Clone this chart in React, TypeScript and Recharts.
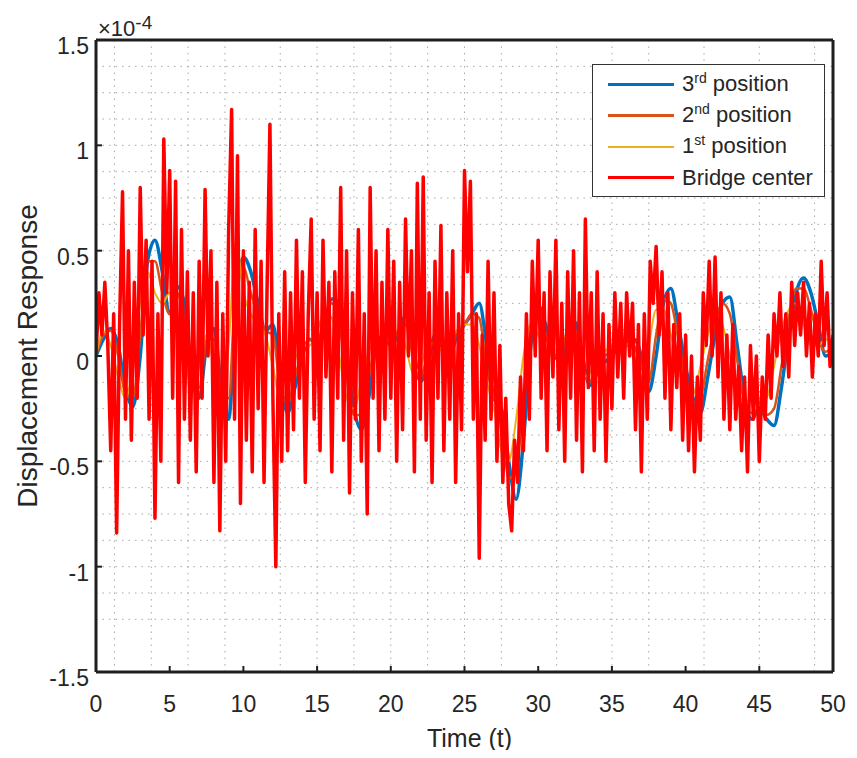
import React from "react";
import { LineChart, Line, XAxis, YAxis, CartesianGrid, Legend, Label } from "recharts";

// x axis: time (t), y values in units of 1e-4
const xTicks = [0, 5, 10, 15, 20, 25, 30, 35, 40, 45, 50];
const yTicks = [-1.5, -1, -0.5, 0, 0.5, 1, 1.5];
const gridXValues = [1.25, 3.75, 5, 6.25, 7.5, 8.75, 12.5, 13.75, 15, 17.5, 20, 21.25, 22.5, 23.75, 25, 27.5, 28.75, 31.25, 33.75, 35, 36.25, 37.5, 38.75, 40, 41.25, 43.75, 45, 46.25, 47.5, 48.75];
const gridYValues = [1.375, 1.25, 1.125, 1, 0.875, 0.75, 0.625, 0.5, 0.375, 0.25, 0.125, -0.125, -0.25, -0.375, -0.5, -0.625, -0.75, -0.875, -1, -1.125, -1.25];

const SMOOTH_STEP = 0.5;
const CENTER_STEP = 0.2;

const pos3 = [
  0.0, 0.08, 0.13, 0.05, -0.15, -0.24, 0.0, 0.45, 0.55, 0.4,
  0.2, 0.33, 0.25, -0.1, -0.2, 0.05, 0.13, -0.15, -0.3, 0.25,
  0.47, 0.4, 0.25, 0.12, 0.15, -0.1, -0.27, -0.15, 0.0, 0.08,
  0.05, 0.15, 0.27, 0.25, 0.0, -0.25, -0.35, -0.2, 0.04, 0.1,
  0.05, 0.1, 0.19, 0.05, -0.12, -0.05, 0.1, 0.05, 0.0, 0.1,
  0.15, 0.2, 0.25, 0.05, -0.2, -0.25, -0.5, -0.68, -0.4, 0.05,
  0.24, 0.15, 0.03, -0.03, 0.08, 0.16, 0.0, -0.14, -0.08, -0.03,
  0.0, 0.05, 0.07, 0.08, 0.0, -0.17, 0.0, 0.25, 0.32, 0.15,
  -0.05, -0.2, -0.27, -0.1, 0.1, 0.25, 0.28, 0.05, -0.2, -0.3,
  -0.25, -0.3, -0.33, -0.15, 0.1, 0.3, 0.37, 0.3, 0.15, 0.0,
  0.02,
];

const pos2 = [
  0.0, 0.1, 0.12, 0.0, -0.18, -0.2, 0.1, 0.45, 0.45, 0.3,
  0.2, 0.3, 0.15, -0.12, -0.15, 0.08, 0.08, -0.2, -0.2, 0.35,
  0.42, 0.3, 0.2, 0.12, 0.1, -0.15, -0.22, -0.1, 0.02, 0.08,
  0.06, 0.18, 0.25, 0.15, -0.08, -0.28, -0.28, -0.1, 0.05, 0.08,
  0.06, 0.12, 0.15, 0.0, -0.1, 0.0, 0.08, 0.04, 0.02, 0.12,
  0.15, 0.2, 0.18, -0.05, -0.2, -0.3, -0.58, -0.55, -0.2, 0.12,
  0.2, 0.1, 0.0, 0.0, 0.12, 0.12, -0.05, -0.12, -0.05, 0.0,
  0.02, 0.06, 0.08, 0.05, -0.05, -0.12, 0.1, 0.27, 0.25, 0.08,
  -0.1, -0.22, -0.2, -0.02, 0.15, 0.25, 0.2, -0.02, -0.22, -0.27,
  -0.25, -0.28, -0.25, -0.05, 0.18, 0.32, 0.32, 0.22, 0.08, 0.02,
  0.05,
];

const pos1 = [
  0.0, 0.12, 0.05, -0.1, -0.2, -0.05, 0.25, 0.4, 0.3, 0.25,
  0.3, 0.2, 0.0, -0.15, -0.05, 0.1, -0.05, -0.25, 0.05, 0.55,
  0.3, 0.2, 0.15, 0.1, -0.05, -0.2, -0.15, -0.02, 0.05, 0.05,
  0.12, 0.2, 0.18, 0.0, -0.2, -0.25, -0.12, 0.02, 0.06, 0.05,
  0.1, 0.12, 0.05, -0.08, -0.05, 0.05, 0.06, 0.02, 0.08, 0.12,
  0.15, 0.15, 0.05, -0.12, -0.25, -0.45, -0.5, -0.3, 0.0, 0.15,
  0.1, 0.02, 0.0, 0.08, 0.1, 0.0, -0.1, -0.08, 0.0, 0.02,
  0.05, 0.05, 0.05, -0.02, -0.1, 0.05, 0.22, 0.22, 0.1, -0.05,
  -0.18, -0.18, -0.05, 0.1, 0.2, 0.15, 0.0, -0.15, -0.22, -0.2,
  -0.22, -0.2, -0.05, 0.12, 0.22, 0.25, 0.15, 0.05, 0.05, 0.08,
  0.05,
];

const bridgeCenter = [
  0.0, 0.3, 0.1, 0.35, 0.05, -0.45, 0.2, -0.84, 0.15, 0.78, -0.3, 0.5, -0.4, 0.35, -0.2, 0.8, 0.1, 0.55, -0.3, 0.45, -0.77, 0.2, -0.5, 1.03, 0.3,
  0.88, -0.2, 0.83, -0.6, 0.6, -0.3, 0.4, -0.4, 0.3, -0.55, 0.45, -0.2, 0.79, 0.0, 0.5, -0.6, 0.35, -0.83, 0.2, -0.5, 0.6, 1.17, -0.3, 0.95, -0.7,
  0.5, -0.4, 0.35, -0.55, 0.6, -0.25, 0.45, -0.6, 0.3, 1.1, -0.2, -1.0, 0.2, -0.5, 0.4, -0.45, 0.3, -0.35, 0.55, -0.2, 0.4, -0.6, 0.2, 0.65, -0.3,
  0.3, -0.45, 0.55, -0.1, 0.35, -0.55, 0.4, -0.2, 0.8, -0.4, 0.5, -0.65, 0.3, -0.3, 0.6, -0.5, 0.2, -0.75, 0.8, -0.2, 0.5, -0.45, 0.35, -0.3, 0.6,
  -0.2, 0.45, -0.5, 0.35, -0.35, 0.65, 0.0, 0.5, -0.55, 0.82, -0.3, 0.85, -0.4, 0.3, -0.6, 0.45, -0.2, 0.62, -0.45, 0.3, -0.3, 0.5, -0.6, 0.2, -0.35,
  0.88, 0.4, 0.83, -0.3, 0.2, -0.96, 0.1, -0.4, 0.45, -0.3, 0.3, -0.5, 0.05, -0.6, -0.2, -0.7, -0.83, -0.4, -0.6, -0.1, -0.45, 0.2, -0.3, 0.45, 0.0,
  0.55, -0.2, 0.3, -0.45, 0.4, -0.1, 0.55, -0.35, 0.25, -0.5, 0.4, -0.2, 0.5, -0.4, 0.3, -0.55, 0.65, -0.15, 0.3, -0.45, 0.4, -0.3, 0.2, -0.5, 0.15,
  -0.25, 0.3, -0.1, 0.25, -0.2, 0.3, 0.0, 0.25, -0.35, 0.15, -0.55, 0.2, -0.3, 0.45, 0.25, 0.52, 0.1, 0.4, -0.2, 0.3, -0.35, 0.15, -0.15, 0.2, -0.4,
  0.1, -0.45, 0.0, -0.55, -0.1, -0.4, 0.3, 0.05, 0.45, 0.0, 0.47, -0.1, 0.3, -0.3, 0.1, -0.35, 0.15, -0.3, -0.05, -0.45, -0.1, -0.55, 0.05, -0.3, 0.0,
  -0.5, -0.1, -0.3, 0.1, -0.2, 0.2, 0.0, 0.3, -0.05, 0.2, -0.1, 0.35, 0.05, 0.3, 0.1, 0.35, 0.0, 0.25, -0.1, 0.2, 0.0, 0.45, 0.05, 0.3, -0.05,
  0.1,
];

const seriesNames = ["3rd position", "2nd position", "1st position", "Bridge center"];
const seriesColors = ["#0072BD", "#D95319", "#EDB120", "#FF0000"];
const seriesWidths = [3.5, 2.5, 2, 3.5];

const toPoints = (vals: number[], step: number) =>
  vals.map((v, i) => ({ t: Math.round(i * step * 100) / 100, v }));

const seriesData = [
  toPoints(pos3, SMOOTH_STEP),
  toPoints(pos2, SMOOTH_STEP),
  toPoints(pos1, SMOOTH_STEP),
  toPoints(bridgeCenter, CENTER_STEP),
];

const FONT = "'Liberation Sans', Arial, Helvetica, sans-serif";
const AXIS_COLOR = "#1f1f1f";
const TEXT_COLOR = "#262626";

const renderName = (name: string) => {
  const m = name.match(/^(\d)(st|nd|rd|th)(.*)$/);
  if (!m) return name;
  return (
    <>
      {m[1]}
      <span style={{ fontSize: 14, position: "relative", top: -8 }}>{m[2]}</span>
      {m[3]}
    </>
  );
};

const renderLegend = () => (
  <div
    style={{
      width: 233,
      height: 133,
      boxSizing: "border-box",
      border: "1.5px solid #333",
      background: "#fff",
      paddingTop: 4,
      fontFamily: FONT,
      fontSize: 22,
      color: TEXT_COLOR,
    }}
  >
    {seriesNames.map((n, i) => (
      <div key={n} style={{ display: "flex", alignItems: "center", height: 31 }}>
        <span
          style={{
            display: "inline-block",
            marginLeft: 15,
            width: 66,
            height: Math.min(seriesWidths[i], 3),
            background: seriesColors[i],
          }}
        />
        <span style={{ marginLeft: 8, whiteSpace: "nowrap", lineHeight: "31px" }}>{renderName(n)}</span>
      </div>
    ))}
  </div>
);

const YLabelContent = (props: any) => {
  const vb = props.viewBox || { x: 8, y: 31, width: 80, height: 633 };
  const cx = vb.x + 11;
  const cy = vb.y + vb.height / 2;
  return (
    <g>
      <text
        x={cx}
        y={cy}
        transform={`rotate(-90 ${cx} ${cy})`}
        textAnchor="middle"
        dominantBaseline="central"
        fontSize={28}
        fontFamily={FONT}
        fill={TEXT_COLOR}
      >
        Displacement Response
      </text>
      <text x={vb.x + vb.width + 2} y={vb.y - 4} fontSize={22} fontFamily={FONT} fill={TEXT_COLOR}>
        ×10
        <tspan dy={-7} fontSize={19}>-4</tspan>
      </text>
    </g>
  );
};

const XLabelContent = (props: any) => {
  const vb = props.viewBox || { x: 88, y: 664, width: 737, height: 60 };
  return (
    <text
      x={vb.x + vb.width / 2 + 5}
      y={vb.y + 75}
      textAnchor="middle"
      fontSize={25}
      fontFamily={FONT}
      fill={TEXT_COLOR}
    >
      Time (t)
    </text>
  );
};

const tickStyle = { fontSize: 23, fontFamily: FONT, fill: TEXT_COLOR };

export default function App() {
  return (
    <div style={{ width: 841, height: 750, marginBottom: -8 }}>
      <LineChart width={841} height={750} margin={{ top: 31, right: 15, bottom: 26, left: 8 }}>
        <CartesianGrid
          xAxisId="bottom"
          yAxisId="left"
          verticalValues={gridXValues}
          horizontalValues={gridYValues}
          stroke="#a8a8a8"
          strokeDasharray="1.5 5"
          strokeWidth={1}
        />
        <XAxis
          xAxisId="bottom"
          type="number"
          dataKey="t"
          domain={[0, 50]}
          ticks={xTicks}
          allowDataOverflow
          height={60}
          tickSize={-6}
          tickMargin={30}
          tick={tickStyle}
          axisLine={{ stroke: AXIS_COLOR, strokeWidth: 3 }}
          tickLine={{ stroke: AXIS_COLOR, strokeWidth: 2 }}
        >
          <Label content={<XLabelContent />} />
        </XAxis>
        <XAxis
          xAxisId="top"
          orientation="top"
          type="number"
          dataKey="t"
          domain={[0, 50]}
          ticks={xTicks}
          allowDataOverflow
          height={1}
          tickSize={-6}
          tick={false}
          axisLine={{ stroke: AXIS_COLOR, strokeWidth: 3 }}
          tickLine={{ stroke: AXIS_COLOR, strokeWidth: 2 }}
        />
        <YAxis
          yAxisId="left"
          type="number"
          domain={[-1.5, 1.5]}
          ticks={yTicks}
          allowDataOverflow
          width={80}
          tickSize={-6}
          tickMargin={13}
          tick={{ ...tickStyle, dy: 6 }}
          tickFormatter={(v: number) => String(v)}
          axisLine={{ stroke: AXIS_COLOR, strokeWidth: 3 }}
          tickLine={{ stroke: AXIS_COLOR, strokeWidth: 2 }}
        >
          <Label content={<YLabelContent />} />
        </YAxis>
        <YAxis
          yAxisId="right"
          orientation="right"
          type="number"
          domain={[-1.5, 1.5]}
          ticks={yTicks}
          allowDataOverflow
          width={1}
          tickSize={-6}
          tick={false}
          axisLine={{ stroke: AXIS_COLOR, strokeWidth: 3 }}
          tickLine={{ stroke: AXIS_COLOR, strokeWidth: 2 }}
        />
        <Legend
          layout="vertical"
          align="center"
          verticalAlign="middle"
          content={renderLegend}
          wrapperStyle={{ left: 584, top: 56, width: 233, height: 133 }}
        />
        {seriesNames.map((name, i) => (
          <Line
            key={name}
            xAxisId="bottom"
            yAxisId="left"
            data={seriesData[i]}
            dataKey="v"
            name={name}
            type={i === 3 ? "linear" : "monotone"}
            stroke={seriesColors[i]}
            strokeWidth={seriesWidths[i]}
            dot={false}
            activeDot={false}
            isAnimationActive={false}
            strokeLinejoin="round"
          />
        ))}
      </LineChart>
    </div>
  );
}
